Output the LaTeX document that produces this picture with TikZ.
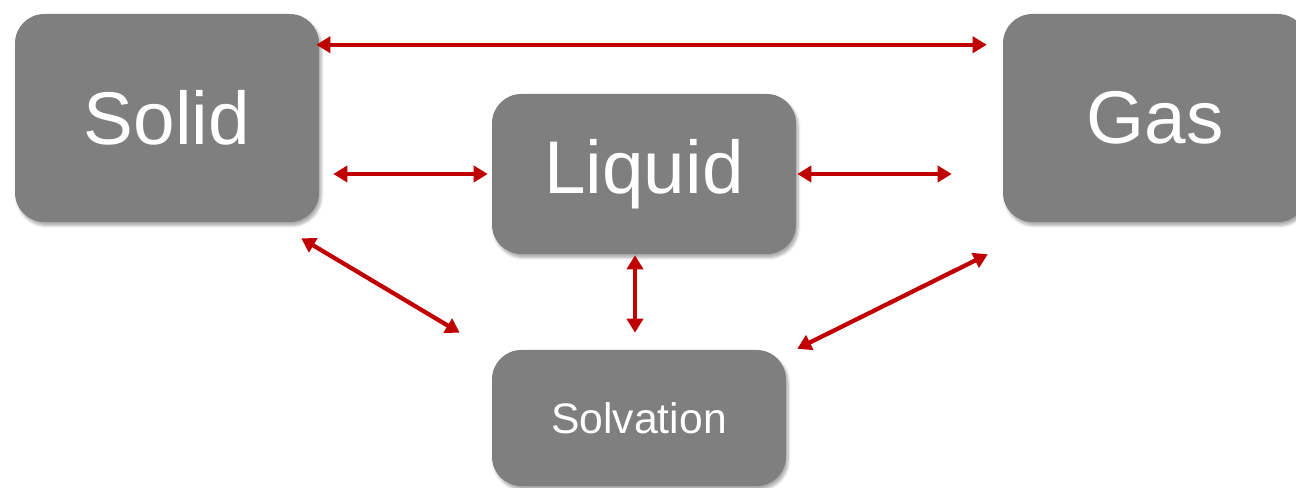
\documentclass[tikz,border=0pt]{standalone}
\usepackage{fontspec}
\setmainfont{Liberation Sans}
\usetikzlibrary{calc,arrows.meta,shadows.blur}
\definecolor{boxgray}{HTML}{7F7F7F}
\definecolor{arrowred}{HTML}{C00000}
\tikzset{
  phase/.style={fill=boxgray, draw=none, rounded corners=22pt, text=white,
    blur shadow={shadow xshift=1.5pt, shadow yshift=-2.5pt, shadow blur steps=6, shadow opacity=35},
    inner sep=0pt},
  bigphase/.style={phase, font=\fontsize{56}{60}\selectfont},
  smallphase/.style={phase, font=\fontsize{32}{36}\selectfont},
  link/.style={draw=arrowred, line width=3.2pt, {Triangle[length=10.5pt,width=12pt]}-{Triangle[length=10.5pt,width=12pt]}}
}
\begin{document}
\begin{tikzpicture}[x=0.75pt,y=-0.75pt]
\useasboundingbox (0,0) rectangle (1296,488);
\node[bigphase, minimum width=228pt, minimum height=156pt] (Solid) at (167,118) {Solid};
\node[bigphase, minimum width=228pt, minimum height=120pt] (Liquid) at (644,174) {Liquid};
\node[bigphase, minimum width=228pt, minimum height=156pt] (Gas) at (1155,118) {Gas};
\node[smallphase, minimum width=220.5pt, minimum height=102pt] (Solvation) at (639,418) {Solvation};

\draw[link] ($(Solid.north east)+(-3,31)$) -- ($(Gas.north west)+(-16,31)$);
\draw[link] ($(Solid.east |- Liquid.west)+(14,0)$) -- ($(Liquid.west)+(-4,0)$);
\draw[link] ($(Liquid.east)+(1,0)$) -- ($(Gas.west |- Liquid.east)+(-51,0)$);
\draw[link] ($(Solid.south east)+(-18,16)$) -- ($(Solvation.north west)+(-32,-17)$);
\draw[link] ($(Liquid.south)+(-9,1)$) -- ($(Solvation.north)+(-4,-17)$);
\draw[link] ($(Gas.south west)+(-15,32)$) -- ($(Solvation.north east)+(11,-1)$);
\end{tikzpicture}
\end{document}
